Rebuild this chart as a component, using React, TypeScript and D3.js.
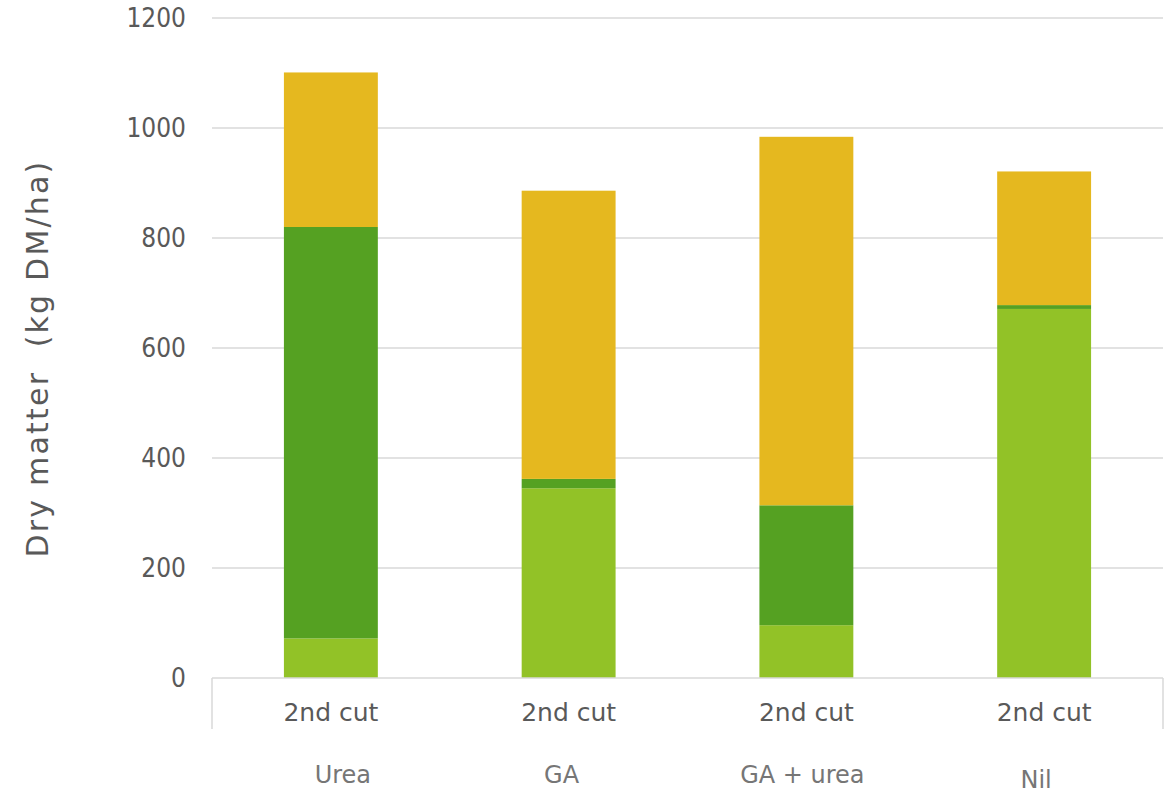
import React from "react";
import * as d3 from "d3";

// Dry matter yield per treatment, split into three stacked components (kg DM/ha)
const treatments = ["Urea", "GA", "GA + urea", "Nil"];
const cutLabels = ["2nd cut", "2nd cut", "2nd cut", "2nd cut"];
const lowerValues = [72, 345, 96, 671];
const middleValues = [748, 17, 218, 7];
const upperValues = [281, 524, 670, 243];
const yTicks = [0, 200, 400, 600, 800, 1000, 1200];

const seriesKeys = ["lower", "middle", "upper"] as const;
const seriesColors: Record<string, string> = {
  lower: "#92C227",
  middle: "#55A122",
  upper: "#E5B81F",
};

const rows = treatments.map((t, i) => ({
  treatment: t,
  lower: lowerValues[i],
  middle: middleValues[i],
  upper: upperValues[i],
}));

const WIDTH = 1173;
const HEIGHT = 794;
const plotLeft = 212;
const plotRight = 1163;
const plotTop = 18;
const plotBottom = 678;
const NARROW = "'DejaVu Sans Condensed', 'DejaVu Sans', sans-serif";
const WIDE = "'DejaVu Sans', sans-serif";

// Small nudges for the treatment captions beneath the axis
const captionShift: Record<string, { dx: number; dy: number }> = {
  Urea: { dx: 12, dy: 0 },
  GA: { dx: -7, dy: 0 },
  "GA + urea": { dx: -4, dy: 0 },
  Nil: { dx: -8, dy: 5 },
};

export default function App() {
  const x = d3
    .scaleBand<string>()
    .domain(treatments)
    .range([plotLeft, plotRight])
    .paddingInner(0.605)
    .paddingOuter(0.3025);

  const y = d3.scaleLinear().domain([0, 1200]).range([plotBottom, plotTop]);

  const stacked = d3.stack<any>().keys(seriesKeys as unknown as string[])(rows);

  return (
    <svg
      width={WIDTH}
      height={HEIGHT}
      style={{ position: "absolute", left: 0, top: 0, background: "#fff" }}
    >
      {/* horizontal gridlines */}
      {yTicks.slice(1).map((t) => (
        <line
          key={`g${t}`}
          x1={plotLeft}
          x2={plotRight}
          y1={y(t)}
          y2={y(t)}
          stroke="#D9D9D9"
          strokeWidth={1.5}
        />
      ))}

      {/* y tick labels */}
      {yTicks.map((t) => (
        <text
          key={`t${t}`}
          x={186}
          y={y(t)}
          dy="0.36em"
          textAnchor="end"
          fontFamily={NARROW}
          fontSize={26}
          fill="#595959"
        >
          {t}
        </text>
      ))}

      {/* y axis title */}
      <text
        transform={`translate(48, ${(159 + 558) / 2}) rotate(-90)`}
        textAnchor="middle"
        fontFamily={WIDE}
        fontSize={30}
        letterSpacing={2.2}
        fill="#595959"
        style={{ whiteSpace: "pre" }}
      >
        {"Dry matter  (kg DM/ha)"}
      </text>

      {/* stacked bars */}
      {stacked.map((layer) => (
        <g key={layer.key} fill={seriesColors[layer.key]}>
          {layer.map((d, i) => (
            <rect
              key={i}
              x={x(treatments[i])}
              width={x.bandwidth()}
              y={y(d[1])}
              height={y(d[0]) - y(d[1])}
            />
          ))}
        </g>
      ))}

      {/* category axis with multi-level labels */}
      <line
        x1={plotLeft}
        x2={plotRight}
        y1={plotBottom}
        y2={plotBottom}
        stroke="#D9D9D9"
        strokeWidth={1.5}
      />
      <line
        x1={plotLeft}
        x2={plotLeft}
        y1={plotBottom}
        y2={729}
        stroke="#D9D9D9"
        strokeWidth={1.5}
      />
      <line
        x1={plotRight}
        x2={plotRight}
        y1={plotBottom}
        y2={729}
        stroke="#D9D9D9"
        strokeWidth={1.5}
      />
      {treatments.map((t, i) => (
        <text
          key={`c${t}`}
          x={(x(t) as number) + x.bandwidth() / 2}
          y={721}
          textAnchor="middle"
          fontFamily={WIDE}
          fontSize={25}
          fill="#595959"
        >
          {cutLabels[i]}
        </text>
      ))}
      {treatments.map((t) => (
        <text
          key={`l${t}`}
          x={(x(t) as number) + x.bandwidth() / 2 + captionShift[t].dx}
          y={783 + captionShift[t].dy}
          textAnchor="middle"
          fontFamily={WIDE}
          fontSize={24}
          fill="#767676"
        >
          {t}
        </text>
      ))}
    </svg>
  );
}
